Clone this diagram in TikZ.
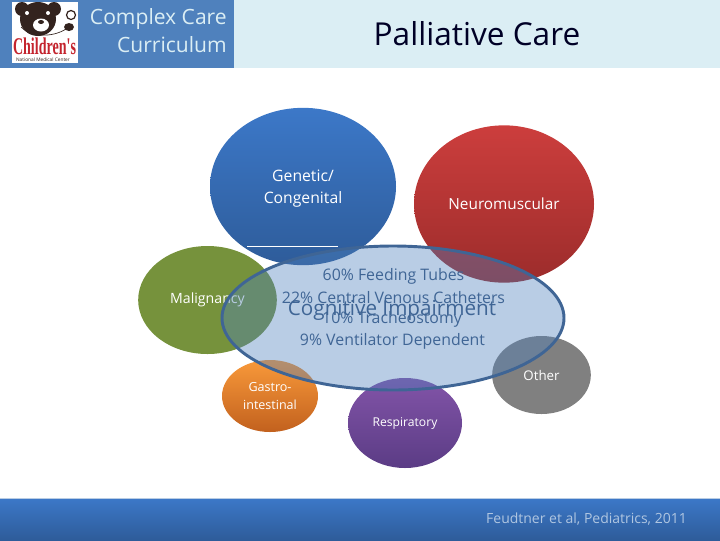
\documentclass[tikz,border=0pt]{standalone}
\usepackage{fontspec}
\setmainfont{Open Sans}
\newfontfamily\logofont{Liberation Serif}
\usetikzlibrary{shapes.geometric}
\definecolor{barblue}{HTML}{4F81BD}
\definecolor{barpale}{HTML}{DBEEF4}
\definecolor{inktext}{HTML}{3F6595}
\definecolor{bearbrown}{HTML}{33231E}
\definecolor{logored}{HTML}{C4242E}
\definecolor{footertop}{HTML}{3C78C8}
\definecolor{footerbot}{HTML}{2E5C9A}
\definecolor{redtop}{HTML}{CC3E3D}
\definecolor{redbot}{HTML}{9C2C2B}
\definecolor{leaf}{HTML}{76923C}
\definecolor{orangetop}{HTML}{F8993A}
\definecolor{orangebot}{HTML}{C2611E}
\definecolor{violettop}{HTML}{8254A8}
\definecolor{violetbot}{HTML}{5B3C85}
\tikzset{
  blob/.style={ellipse,inner sep=0pt,text=white,align=center},
  statline/.style={text=inktext,inner sep=0pt,font=\fontsize{11.9}{14}\selectfont},
}
\begin{document}
\begin{tikzpicture}[x=0.75pt,y=-0.75pt]
\useasboundingbox (0,0) rectangle (720,540);
% top bar
\fill[barpale] (0,0) rectangle (720,68);
\fill[barblue] (0,0) rectangle (234,68);
\fill[white] (12,2) rectangle (78,63);
% bear
\fill[bearbrown] (38,19) ellipse (18 and 17);
\fill[bearbrown] (22,9) circle (7);
\fill[bearbrown] (54,9) circle (7);
\fill[white] (41,25) ellipse (8 and 6.5);
\fill[white] (27,13) circle (2);
\fill[white] (48,13) circle (2);
\fill[bearbrown] (41,22) ellipse (3 and 2);
\draw[bearbrown,line width=0.9pt] (71,15) circle (4.5);
\fill[bearbrown] (69,27) ellipse (5 and 4);
\draw[bearbrown,line width=0.5pt] (21,27) .. controls (30,37) and (52,38) .. (66,29);
\node[text=logored,inner sep=0pt,font=\logofont\fontsize{18}{18}\selectfont\bfseries,xscale=0.585] (logoname) at (44.5,46) {Children's};
\node[text=bearbrown,inner sep=0pt,font=\fontsize{3.6}{4}\selectfont] (logosub) at (43,59.5) {National Medical Center};
\node[anchor=east,text=barpale,align=right,inner sep=0pt,font=\fontsize{15.8}{21}\selectfont] (course) at (227,31) {Complex Care\\Curriculum};
\node[text=black!85!blue,inner sep=0pt,font=\fontsize{23.7}{28}\selectfont] (title) at (477,34) {Palliative Care};
% cause ellipses
\node[blob,minimum width=139.5pt,minimum height=118pt,top color=footertop,bottom color=footerbot,font=\fontsize{11.8}{16.5}\selectfont,text depth=0pt] (genetic) at (303,186.5) {Genetic/\\Congenital};
\draw[white] (247,246.5) -- (338,246.5);
\node[blob,minimum width=135pt,minimum height=118pt,top color=redtop,bottom color=redbot,font=\fontsize{11.5}{14}\selectfont] (neuro) at (504,204) {\raisebox{-1pt}{Neuromuscular}};
\node[blob,minimum width=104pt,minimum height=81pt,fill=leaf,font=\fontsize{10.6}{14}\selectfont] (malig) at (207.5,300) {\raisebox{-1pt}{Malignancy}};
\node[blob,minimum width=72pt,minimum height=54pt,top color=orangetop,bottom color=orangebot,font=\fontsize{9.4}{12.8}\selectfont] (gastro) at (270,396) {Gastro-\\intestinal};
\node[blob,minimum width=85.5pt,minimum height=67.5pt,top color=violettop,bottom color=violetbot,font=\fontsize{9.1}{11}\selectfont] (resp) at (405,423) {\raisebox{-1pt}{Respiratory}};
\node[blob,minimum width=74pt,minimum height=58.5pt,fill=gray,font=\fontsize{10}{12}\selectfont] (other) at (541.5,375) {Other};
% overlay
\node[ellipse,inner sep=0pt,minimum width=256.5pt,minimum height=108pt,draw=inktext,line width=2.2pt,fill=barblue,fill opacity=0.4] (impair) at (393,318) {};
\node[statline] (tubes) at (393.5,276.5) {60\% Feeding Tubes};
\node[statline] (venous) at (393.5,297.5) {22\% Central Venous Catheters};
\node[statline] (trach) at (392,319.5) {10\% Tracheostomy};
\node[statline] (vent) at (392.5,341.5) {9\% Ventilator Dependent};
\node[text=inktext,inner sep=0pt,font=\fontsize{15.5}{18}\selectfont] (cogn) at (392,310.5) {Cognitive Impairment};
% footer
\shade[top color=footertop,bottom color=footerbot] (0,498) rectangle (720,540);
\draw[barblue!40!white] (0,498) -- (720,498);
\node[text=barblue!45!white,inner sep=0pt,font=\fontsize{10.5}{12}\selectfont] (source) at (586.5,519) {Feudtner et al, Pediatrics, 2011};
\end{tikzpicture}
\end{document}
